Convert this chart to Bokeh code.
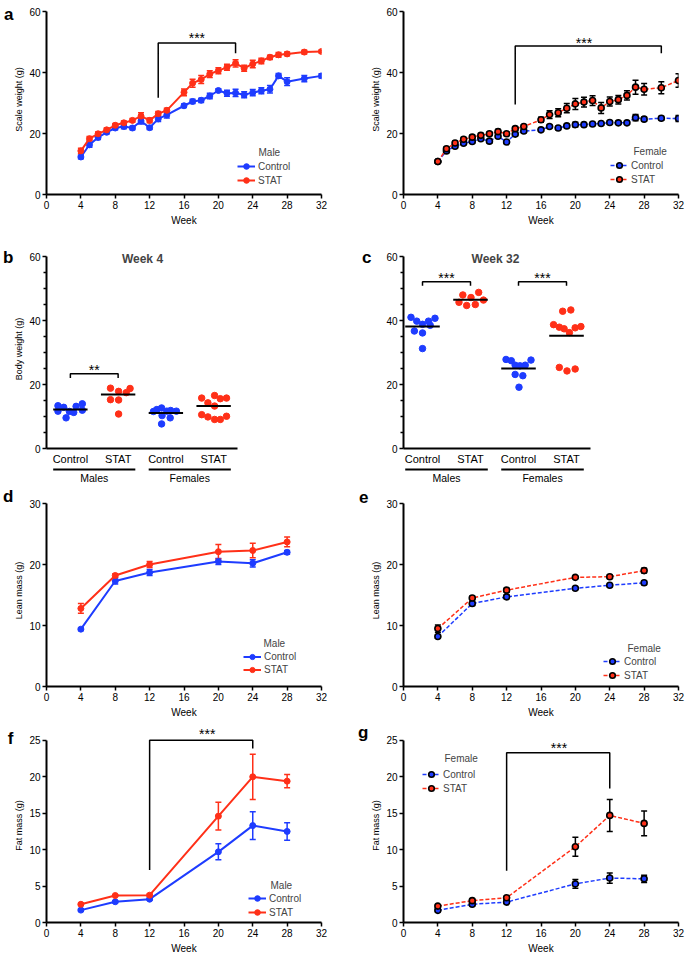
from bokeh.plotting import figure
from bokeh.layouts import row, column
from bokeh.models import (Range1d, FixedTicker, Whisker, TeeHead, ColumnDataSource,
                          Legend, LegendItem, Label, LinearAxis)
from bokeh.core.properties import value
from bokeh.embed import file_html
from bokeh.resources import INLINE

FONT = "Liberation Sans"
BLUE = "#1e3cff"
RED = "#ff3018"

# ---------------- data ----------------
weeks_weight = [4, 5, 6, 7, 8, 9, 10, 11, 12, 13, 14, 16, 17, 18, 19, 20, 21, 22, 23, 24, 25, 26, 27, 28, 30, 32]
male_ctrl_weight = [12.3, 16.3, 18.7, 20.4, 21.8, 22.3, 21.8, 24.1, 21.9, 24.8, 26.1, 29.1, 30.5, 30.9, 32.3,
                    34.1, 33.2, 33.3, 32.7, 33.4, 34.0, 34.5, 38.9, 37.0, 38.0, 38.9]
male_ctrl_weight_err = [0.6, 0.8, 0.7, 0.6, 0.6, 0.7, 0.6, 1.0, 0.6, 0.9, 1.0, 0.6, 0.7, 0.7, 0.9,
                        0.6, 1.0, 1.2, 1.0, 1.0, 1.0, 1.2, 0.8, 1.3, 1.0, 0.7]
male_stat_weight = [14.3, 18.3, 19.9, 21.2, 22.7, 23.5, 24.3, 25.7, 24.3, 26.5, 27.6, 33.5, 36.5, 37.7, 39.5,
                    40.6, 41.7, 43.0, 41.4, 42.8, 43.8, 45.0, 45.8, 46.1, 46.7, 46.9]
male_stat_weight_err = [0.9, 0.7, 0.6, 0.6, 0.6, 0.6, 0.6, 1.1, 0.8, 0.7, 0.7, 1.1, 1.3, 1.3, 1.1,
                        1.0, 1.0, 1.2, 1.0, 1.2, 0.9, 0.7, 0.8, 0.6, 0.6, 0.5]
female_ctrl_weight = [10.8, 14.3, 15.8, 16.8, 17.4, 18.3, 17.5, 19.1, 17.2, 19.8, 20.8, 21.2, 22.3, 21.8, 22.5,
                      22.9, 22.9, 23.1, 23.3, 23.6, 23.5, 23.5, 25.2, 24.7, 25.0, 24.9]
female_ctrl_weight_err = [0.4, 0.5, 0.5, 0.5, 0.5, 0.5, 0.5, 0.6, 0.5, 0.5, 0.5, 0.5, 0.5, 0.5, 0.5,
                          0.8, 0.6, 0.5, 0.5, 0.6, 0.5, 0.5, 1.0, 0.6, 0.6, 1.0]
female_stat_weight = [10.8, 15.0, 16.9, 18.1, 18.8, 19.4, 19.9, 20.6, 19.9, 21.6, 22.3, 24.5, 26.2, 26.8, 28.3,
                      29.7, 30.3, 30.8, 28.4, 30.5, 31.1, 32.5, 35.2, 34.5, 35.0, 37.4]
female_stat_weight_err = [0.4, 0.6, 0.6, 0.6, 0.6, 0.6, 0.6, 0.7, 0.6, 0.6, 0.6, 0.8, 1.3, 1.3, 1.5,
                          1.8, 1.6, 1.6, 1.8, 1.5, 1.4, 1.5, 2.3, 1.9, 2.0, 2.2]

# week 4 / week 32 individual body weights (category 1..4 plus horizontal spread)
group_labels = ["Control", "STAT", "Control", "STAT"]
sex_labels = ["Males", "Females"]
w4_cat = [1] * 9 + [2] * 7 + [3] * 9 + [4] * 11
w4_offset = [-0.26, -0.26, -0.14, -0.09, -0.02, 0.07, 0.12, 0.25, 0.25,
             -0.16, 0.01, 0.17, 0.25, -0.16, 0.01, 0.01,
             -0.26, -0.19, -0.09, 0.02, 0.10, 0.22, -0.08, 0.09, -0.09,
             -0.25, 0.02, 0.14, 0.27, -0.12, 0.02, -0.25, -0.12, 0.02, 0.14, 0.27]
w4_value = [13.4, 11.7, 12.9, 9.6, 11.6, 11.3, 13.2, 14.0, 12.0,
            18.9, 17.9, 17.5, 18.8, 15.3, 15.2, 10.8,
            11.6, 12.2, 12.7, 11.7, 11.9, 11.7, 10.3, 9.6, 7.7,
            15.8, 16.6, 15.6, 15.8, 14.3, 13.3, 10.6, 9.9, 9.1, 9.1, 10.1]
w4_mean = [12.2, 16.9, 11.1, 13.3]

w32_cat = [1] * 9 + [2] * 7 + [3] * 9 + [4] * 11
w32_offset = [-0.24, -0.12, 0.0, 0.125, 0.26, -0.17, 0.0, 0.16, 0.0,
              -0.16, 0.17, 0.01, -0.24, -0.08, 0.10, 0.27,
              -0.26, -0.15, -0.07, 0.03, 0.14, 0.26, -0.07, 0.09, 0.01,
              -0.08, 0.09, -0.27, -0.15, -0.05, 0.06, 0.18, 0.30, -0.15, 0.01, 0.18]
w32_value = [41.1, 39.9, 38.9, 39.9, 40.8, 36.8, 36.2, 38.6, 31.3,
             48.1, 48.9, 47.3, 45.8, 44.8, 45.1, 46.5,
             27.9, 27.5, 26.1, 25.9, 26.1, 27.7, 23.2, 22.8, 19.2,
             43.0, 43.4, 38.8, 38.0, 37.5, 36.3, 37.8, 38.2, 25.4, 24.3, 24.9]
w32_mean = [38.2, 46.6, 25.1, 35.3]

weeks_comp = [4, 8, 12, 20, 24, 28]
male_ctrl_lean = [9.4, 17.3, 18.7, 20.5, 20.2, 22.0]
male_ctrl_lean_err = [0.2, 0.5, 0.5, 0.5, 0.6, 0.3]
male_stat_lean = [12.8, 18.2, 20.0, 22.1, 22.3, 23.7]
male_stat_lean_err = [0.8, 0.3, 0.5, 1.2, 1.2, 0.8]
female_ctrl_lean = [8.2, 13.6, 14.7, 16.1, 16.6, 17.0]
female_ctrl_lean_err = [0.3, 0.3, 0.3, 0.2, 0.2, 0.3]
female_stat_lean = [9.5, 14.5, 15.8, 17.9, 18.0, 19.0]
female_stat_lean_err = [0.6, 0.3, 0.3, 0.2, 0.3, 0.4]
male_ctrl_fat = [1.7, 2.85, 3.2, 9.7, 13.3, 12.5]
male_ctrl_fat_err = [0.15, 0.15, 0.15, 1.1, 1.9, 1.2]
male_stat_fat = [2.5, 3.7, 3.75, 14.6, 20.0, 19.4]
male_stat_fat_err = [0.15, 0.1, 0.15, 1.9, 3.1, 0.9]
female_ctrl_fat = [1.67, 2.5, 2.8, 5.3, 6.1, 6.0]
female_ctrl_fat_err = [0.2, 0.2, 0.2, 0.6, 0.7, 0.5]
female_stat_fat = [2.25, 3.0, 3.4, 10.4, 14.7, 13.6]
female_stat_fat_err = [0.2, 0.2, 0.2, 1.3, 2.2, 1.7]

week_ticks = [0, 4, 8, 12, 16, 20, 24, 28, 32]


# ---------------- helpers ----------------
def base_fig(width, height, xr, yr, left, right, top, bottom):
    p = figure(width=width, height=height, x_range=Range1d(*xr), y_range=Range1d(*yr),
               output_backend="svg", toolbar_location=None,
               min_border_left=left, min_border_right=right,
               min_border_top=top, min_border_bottom=bottom)
    p.outline_line_color = None
    p.xgrid.visible = False
    p.ygrid.visible = False
    for ax in (p.xaxis[0], p.yaxis[0]):
        ax.axis_line_width = 2
        ax.axis_line_color = "black"
        ax.major_tick_line_width = 1.5
        ax.major_tick_line_color = "black"
        ax.major_tick_out = 4
        ax.major_tick_in = 0
        ax.minor_tick_line_color = None
        ax.major_label_text_font = FONT
        ax.major_label_text_font_size = "10px"
        ax.major_label_text_color = "black"
        ax.major_label_standoff = 2
        ax.axis_label_text_font = FONT
        ax.axis_label_text_font_style = "normal"
        ax.axis_label_text_color = "black"
    p.yaxis[0].axis_label_text_font_size = "9px"
    p.yaxis[0].axis_label_standoff = 2
    p.xaxis[0].axis_label_text_font_size = "10px"
    p.xaxis[0].axis_label_standoff = 3
    return p


def letter(p, txt, y, standoff=0):
    ax = LinearAxis(ticker=FixedTicker(ticks=[y]), major_label_overrides={y: txt},
                    axis_line_color=None, major_tick_line_color=None, minor_tick_line_color=None,
                    major_tick_out=0, major_tick_in=0, minor_tick_out=0, minor_tick_in=0,
                    major_label_standoff=standoff, axis_label_standoff=0,
                    major_label_text_font=FONT, major_label_text_font_style="bold",
                    major_label_text_font_size="17px", major_label_text_color="black")
    p.add_layout(ax, "left")


def stars(p, txt, x, y):
    p.add_layout(Label(x=x, y=y, text=txt, text_font=FONT, text_font_size="14px",
                       text_align="center", text_baseline="middle", text_color="black"))


def bracket(p, xs, ys):
    p.line(xs, ys, line_color="black", line_width=1.5)


def time_panel(p, weeks, series, female, legend_xy, title_xy, sex, label_h=14):
    items = []
    for vals, errs, color, name in series:
        src = ColumnDataSource(dict(x=weeks, y=vals,
                                    lo=[v - e for v, e in zip(vals, errs)],
                                    hi=[v + e for v, e in zip(vals, errs)]))
        bar_color = "black" if female else color
        p.add_layout(Whisker(source=src, base="x", upper="hi", lower="lo",
                             line_color=bar_color, line_width=1.5,
                             upper_head=TeeHead(size=6, line_color=bar_color, line_width=1.5),
                             lower_head=TeeHead(size=6, line_color=bar_color, line_width=1.5)))
        if female:
            ln = p.line("x", "y", source=src, line_color=color, line_width=1.5, line_dash="4 2")
            mk = p.scatter("x", "y", source=src, marker="circle", size=6, fill_color=color,
                           line_color="black", line_width=1.6)
        else:
            ln = p.line("x", "y", source=src, line_color=color, line_width=2)
            mk = p.scatter("x", "y", source=src, marker="circle", size=6, fill_color=color,
                           line_color=color)
        items.append(LegendItem(label=name, renderers=[ln, mk]))
    leg = Legend(items=items, location=legend_xy, glyph_width=18, glyph_height=label_h,
                 label_height=label_h, spacing=0, padding=0, margin=0, label_standoff=3,
                 label_text_font=FONT, label_text_font_size="10px",
                 border_line_color=None, background_fill_alpha=0)
    p.add_layout(leg)
    p.add_layout(Label(x=title_xy[0], y=title_xy[1], x_units="screen", y_units="screen",
                       text=sex, text_font=FONT, text_font_size="10px",
                       text_baseline="middle", text_align="left"))


def dot_panel(p, cats, offs, vals, means, bounds):
    xs = [c + o for c, o in zip(cats, offs)]
    colors = [BLUE if c in (1, 3) else RED for c in cats]
    p.scatter(xs, vals, marker="circle", size=6.5, fill_color=colors, line_color=colors)
    p.segment(x0=[i + 1 - 0.36 for i in range(4)], x1=[i + 1 + 0.36 for i in range(4)],
              y0=means, y1=means, line_color="black", line_width=2)
    p.xaxis[0].ticker = FixedTicker(ticks=[1, 2, 3, 4])
    p.xaxis[0].major_label_overrides = {i + 1: t for i, t in enumerate(group_labels)}
    p.xaxis[0].major_tick_out = 0
    p.xaxis[0].major_label_text_font_size = "11px"
    p.xaxis[0].major_label_standoff = 4
    p.xaxis[0].bounds = bounds
    p.yaxis[0].bounds = (0, 60)
    p.yaxis[0].ticker = FixedTicker(ticks=[0, 20, 40, 60],
                                    minor_ticks=[5, 10, 15, 25, 30, 35, 45, 50, 55])
    p.yaxis[0].minor_tick_line_color = "black"
    p.yaxis[0].minor_tick_line_width = 1.5
    p.yaxis[0].minor_tick_out = 3
    p.yaxis[0].minor_tick_in = 0


def sex_strip(width, x_range, left, right):
    s = figure(width=width, height=18, x_range=x_range, y_range=Range1d(18, 0),
               x_axis_type=None, y_axis_type=None, output_backend="svg", toolbar_location=None,
               min_border_left=left, min_border_right=right, min_border_top=0, min_border_bottom=0)
    s.outline_line_color = None
    s.segment(x0=[0.64, 2.64], x1=[2.36, 4.36], y0=[2, 2], y1=[2, 2],
              line_color="black", line_width=2)
    s.text(x=[1.5, 3.5], y=[10.5, 10.5], text=sex_labels, text_font=value(FONT),
           text_font_size=value("10.5px"), text_align="center", text_baseline="middle",
           text_color="black")
    return s


# ---------------- layout geometry ----------------
WL, WR = 339, 346
LB_L, RB_L = 46, 18
LB_R, RB_R = 64, 7
LET_L = -2   # standoff of panel letters in the left column

# ---------------- panel a ----------------
pa_l = base_fig(WL, 232, (0, 32), (0, 62.3), LB_L, RB_L, 4, 38)
pa_l.xaxis[0].ticker = FixedTicker(ticks=week_ticks)
pa_l.yaxis[0].ticker = FixedTicker(ticks=[0, 20, 40, 60])
pa_l.yaxis[0].bounds = (0, 60)
pa_l.xaxis[0].axis_label = "Week"
pa_l.yaxis[0].axis_label = "Scale weight (g)"
bracket(pa_l, [13, 13, 22, 22], [31.7, 49.7, 49.7, 46.3])
stars(pa_l, "***", 17.5, 51.4)
time_panel(pa_l, weeks_weight,
           [(male_ctrl_weight, male_ctrl_weight_err, BLUE, "Control"),
            (male_stat_weight, male_stat_weight_err, RED, "STAT")],
           False, (191, 7), (212, 42), "Male")
letter(pa_l, "a", 61.95, LET_L)

pa_r = base_fig(WR, 232, (0, 32), (0, 62.3), LB_R, RB_R, 4, 38)
pa_r.xaxis[0].ticker = FixedTicker(ticks=week_ticks)
pa_r.yaxis[0].ticker = FixedTicker(ticks=[0, 20, 40, 60])
pa_r.yaxis[0].bounds = (0, 60)
pa_r.xaxis[0].axis_label = "Week"
pa_r.yaxis[0].axis_label = "Scale weight (g)"
bracket(pa_r, [13, 13, 30, 30], [29.5, 48.7, 48.7, 46.3])
stars(pa_r, "***", 21.0, 49.7)
time_panel(pa_r, weeks_weight,
           [(female_ctrl_weight, female_ctrl_weight_err, BLUE, "Control"),
            (female_stat_weight, female_stat_weight_err, RED, "STAT")],
           True, (207, 8), (230, 43), "Female")

# ---------------- panels b, c ----------------
pb = base_fig(WL, 235, (0.5, 6.259), (0, 62.34), LB_L, RB_L, 17, 18)
pb.yaxis[0].axis_label = "Body weight (g)"
dot_panel(pb, w4_cat, w4_offset, w4_value, w4_mean, (0.5, 4.5))
bracket(pb, [1, 1, 2, 2], [22.1, 23.4, 23.4, 22.1])
stars(pb, "**", 1.5, 24.7)
pb.add_layout(Label(x=2.51, y=59.5, text="Week 4", text_font=FONT, text_font_style="bold",
                    text_font_size="12px", text_align="center", text_baseline="middle"))
letter(pb, "b", 59.85, LET_L)
sb = sex_strip(WL, pb.x_range, LB_L, RB_L)

pc = base_fig(WR, 235, (0.604, 6.333), (0, 62.34), LB_R, RB_R, 17, 18)
dot_panel(pc, w32_cat, w32_offset, w32_value, w32_mean, (0.604, 4.5))
bracket(pc, [1, 1, 2, 2], [51.0, 52.2, 52.2, 51.0])
bracket(pc, [3, 3, 4, 4], [51.0, 52.2, 52.2, 51.0])
stars(pc, "***", 1.5, 53.3)
stars(pc, "***", 3.5, 53.3)
pc.add_layout(Label(x=2.52, y=59.5, text="Week 32", text_font=FONT, text_font_style="bold",
                    text_font_size="12px", text_align="center", text_baseline="middle"))
letter(pc, "c", 59.85, standoff=12)
sc = sex_strip(WR, pc.x_range, LB_R, RB_R)

# ---------------- panels d, e ----------------
pd_ = base_fig(WL, 236, (0, 32), (0, 31.48), LB_L, RB_L, 9, 35)
pd_.xaxis[0].ticker = FixedTicker(ticks=week_ticks)
pd_.yaxis[0].ticker = FixedTicker(ticks=[0, 10, 20, 30])
pd_.yaxis[0].bounds = (0, 30)
pd_.xaxis[0].axis_label = "Week"
pd_.yaxis[0].axis_label = "Lean mass (g)"
time_panel(pd_, weeks_comp,
           [(male_ctrl_lean, male_ctrl_lean_err, BLUE, "Control"),
            (male_stat_lean, male_stat_lean_err, RED, "STAT")],
           False, (197, 10), (217, 43), "Male", label_h=13)
letter(pd_, "d", 31.15, LET_L)

pe = base_fig(WR, 236, (0, 32), (0, 31.48), LB_R, RB_R, 9, 35)
pe.xaxis[0].ticker = FixedTicker(ticks=week_ticks)
pe.yaxis[0].ticker = FixedTicker(ticks=[0, 10, 20, 30])
pe.yaxis[0].bounds = (0, 30)
pe.xaxis[0].axis_label = "Week"
pe.yaxis[0].axis_label = "Lean mass (g)"
time_panel(pe, weeks_comp,
           [(female_ctrl_lean, female_ctrl_lean_err, BLUE, "Control"),
            (female_stat_lean, female_stat_lean_err, RED, "STAT")],
           True, (200, 4), (224, 38), "Female")
letter(pe, "e", 31.15)

# ---------------- panels f, g ----------------
pf = base_fig(WL, 235, (0, 32), (0, 26.63), LB_L, RB_L, 7, 32)
pf.xaxis[0].ticker = FixedTicker(ticks=week_ticks)
pf.yaxis[0].ticker = FixedTicker(ticks=[0, 5, 10, 15, 20, 25])
pf.yaxis[0].bounds = (0, 25)
pf.xaxis[0].axis_label = "Week"
pf.yaxis[0].axis_label = "Fat mass (g)"
bracket(pf, [12, 12, 24, 24], [7.2, 25, 25, 23.9])
stars(pf, "***", 18.7, 25.9)
time_panel(pf, weeks_comp,
           [(male_ctrl_fat, male_ctrl_fat_err, BLUE, "Control"),
            (male_stat_fat, male_stat_fat_err, RED, "STAT")],
           False, (202, 3), (224, 37), "Male")
letter(pf, "f", 25.27, LET_L)

pg = base_fig(WR, 235, (0, 32), (0, 26.63), LB_R, RB_R, 7, 32)
pg.xaxis[0].ticker = FixedTicker(ticks=week_ticks)
pg.yaxis[0].ticker = FixedTicker(ticks=[0, 5, 10, 15, 20, 25])
pg.yaxis[0].bounds = (0, 25)
pg.xaxis[0].axis_label = "Week"
pg.yaxis[0].axis_label = "Fat mass (g)"
bracket(pg, [12, 12, 24, 24], [7.1, 23.3, 23.3, 18.4])
stars(pg, "***", 18.1, 24.0)
time_panel(pg, weeks_comp,
           [(female_ctrl_fat, female_ctrl_fat_err, BLUE, "Control"),
            (female_stat_fat, female_stat_fat_err, RED, "STAT")],
           True, (19, 127), (41, 164), "Female")
letter(pg, "g", 26.09)

layout = row(column(pa_l, pb, sb, pd_, pf), column(pa_r, pc, sc, pe, pg))

open("out.html", "w").write(file_html(layout, INLINE, title="chart"))
